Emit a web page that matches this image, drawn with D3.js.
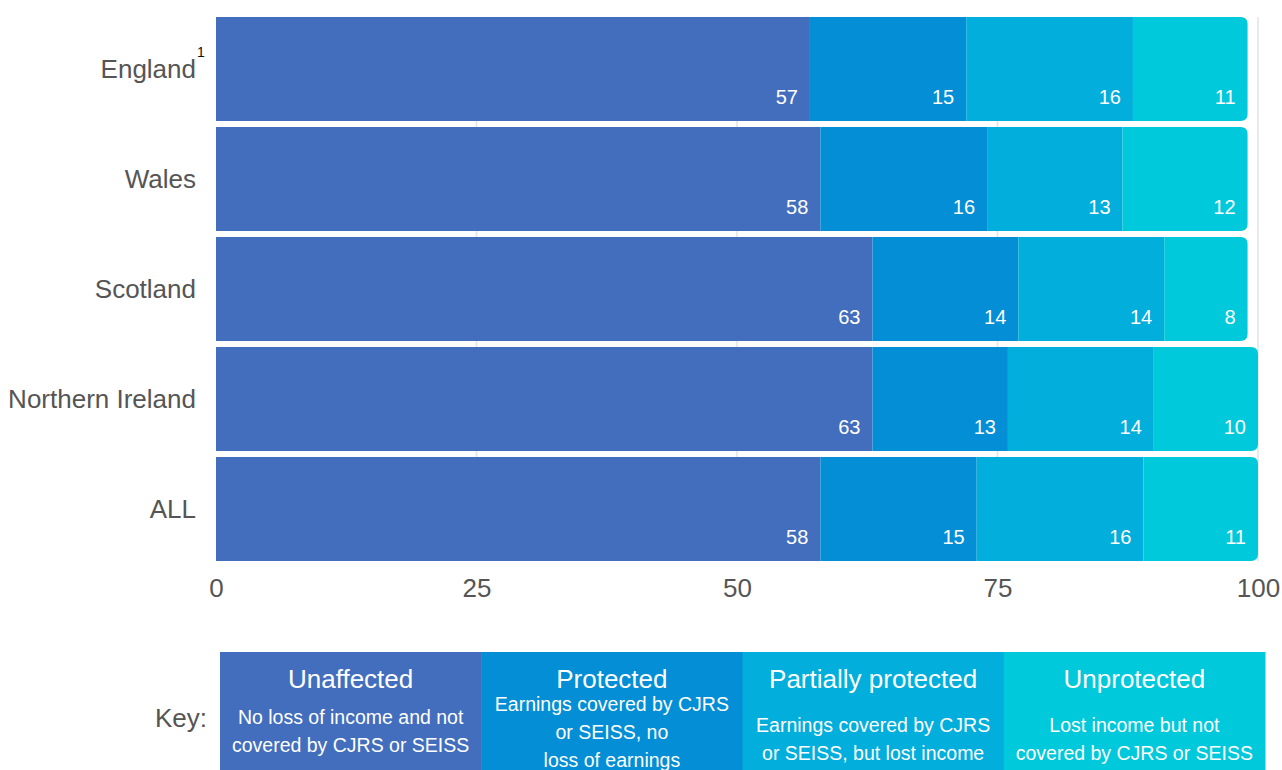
<!DOCTYPE html>
<html>
<head>
<meta charset="utf-8">
<script src="https://cdn.jsdelivr.net/npm/d3@7"></script>
<style>
  body { margin: 0; background: #fff; }
  svg text { font-family: "Liberation Sans", Arial, sans-serif; }
</style>
</head>
<body>
<svg id="chart" width="1282" height="770"></svg>
<script>
// data
var categories = ["England", "Wales", "Scotland", "Northern Ireland", "ALL"];
var unaffected = [57, 58, 63, 63, 58];
var protectedV = [15, 16, 14, 13, 15];
var partially = [16, 13, 14, 14, 16];
var unprotected = [11, 12, 8, 10, 11];
var seriesNames = ["Unaffected", "Protected", "Partially protected", "Unprotected"];
var seriesNotes = [
  ["No loss of income and not", "covered by CJRS or SEISS"],
  ["Earnings covered by CJRS", "or SEISS, no", "loss of earnings"],
  ["Earnings covered by CJRS", "or SEISS, but lost income"],
  ["Lost income but not", "covered by CJRS or SEISS"]
];
var xTicks = [0, 25, 50, 75, 100];
var colors = ["#436ebd", "#038ed5", "#02aedc", "#00c9db"];

var svg = d3.select("#chart");

var x = d3.scaleLinear().domain([0, 100]).range([216, 1258]);
var y = d3.scaleBand().domain(categories).range([14, 564])
    .paddingInner(0.055).paddingOuter(0.0275);

// stack the rows
var rows = categories.map(function(c, i) {
  return { cat: c, Unaffected: unaffected[i], Protected: protectedV[i],
           "Partially protected": partially[i], Unprotected: unprotected[i] };
});
var stacked = d3.stack().keys(seriesNames)(rows);

// gridlines
svg.append("g").selectAll("line")
  .data(xTicks.slice(1))
  .join("line")
    .attr("x1", d => x(d)).attr("x2", d => x(d))
    .attr("y1", y.range()[0] + 3).attr("y2", y(categories[4]) + y.bandwidth())
    .attr("stroke", "#e3e3e3").attr("stroke-width", 1.5);

var r = 7;
function segPath(d, last) {
  var x0 = x(d[0]), x1 = x(d[1]), y0 = y(d.data.cat), h = y.bandwidth();
  if (!last) return "M" + x0 + "," + y0 + "H" + x1 + "V" + (y0 + h) + "H" + x0 + "Z";
  return "M" + x0 + "," + y0 + "H" + (x1 - r) +
    "Q" + x1 + "," + y0 + " " + x1 + "," + (y0 + r) +
    "V" + (y0 + h - r) +
    "Q" + x1 + "," + (y0 + h) + " " + (x1 - r) + "," + (y0 + h) +
    "H" + x0 + "Z";
}

var groups = svg.append("g").selectAll("g")
  .data(stacked)
  .join("g")
    .attr("fill", (d, i) => colors[i]);

groups.selectAll("path")
  .data((d, i) => d.map(s => Object.assign(s, { last: i === 3 })))
  .join("path")
    .attr("d", d => segPath(d, d.last));

groups.selectAll("text")
  .data(d => d)
  .join("text")
    .attr("x", d => x(d[1]) - 12)
    .attr("y", d => y(d.data.cat) + y.bandwidth() - 17)
    .attr("text-anchor", "end")
    .attr("fill", "#fff")
    .style("font-size", "20px")
    .text(d => d[1] - d[0]);

// category labels
svg.append("g").selectAll("text")
  .data(categories)
  .join("text")
    .attr("x", 196)
    .attr("y", d => y(d) + y.bandwidth() / 2)
    .attr("dy", "0.35em")
    .attr("text-anchor", "end")
    .attr("fill", "#555")
    .style("font-size", "26px")
    .text(d => d);

svg.append("text")
  .attr("x", 197).attr("y", 57)
  .attr("fill", "#111")
  .style("font-size", "14px")
  .text("1");

// x axis
var xAxis = svg.append("g")
  .attr("transform", "translate(0,588)")
  .call(d3.axisBottom(x).tickValues(xTicks).tickSize(0).tickPadding(0));
xAxis.select(".domain").remove();
xAxis.selectAll("text")
  .attr("y", 0).attr("dy", "0.35em")
  .attr("fill", "#555")
  .style("font-size", "26px")
  .style("font-family", "Liberation Sans, Arial, sans-serif");

// key
var lx = d3.scaleBand().domain(seriesNames).range([220, 1265]);
svg.append("text")
  .attr("x", 207).attr("y", 718).attr("dy", "0.35em")
  .attr("text-anchor", "end")
  .attr("fill", "#555")
  .style("font-size", "26px")
  .text("Key:");

var key = svg.append("g").selectAll("g")
  .data(seriesNames)
  .join("g")
    .attr("transform", d => "translate(" + lx(d) + ",652)");

key.append("rect")
  .attr("width", lx.bandwidth() + 0.5)
  .attr("height", 130)
  .attr("fill", (d, i) => colors[i]);

key.append("text")
  .attr("x", lx.bandwidth() / 2)
  .attr("y", 27).attr("dy", "0.35em")
  .attr("text-anchor", "middle")
  .attr("fill", "#fff")
  .style("font-size", "26px")
  .text(d => d);

key.each(function(d, i) {
  var notes = seriesNotes[i];
  var startY = notes.length === 3 ? 52 : (i === 0 ? 65 : 73);
  d3.select(this).selectAll("text.note")
    .data(notes)
    .join("text")
      .attr("class", "note")
      .attr("x", lx.bandwidth() / 2)
      .attr("y", (n, j) => startY + j * 28)
      .attr("dy", "0.35em")
      .attr("text-anchor", "middle")
      .attr("fill", "#fff")
      .style("font-size", "19.5px")
      .text(n => n);
});
</script>
</body>
</html>
